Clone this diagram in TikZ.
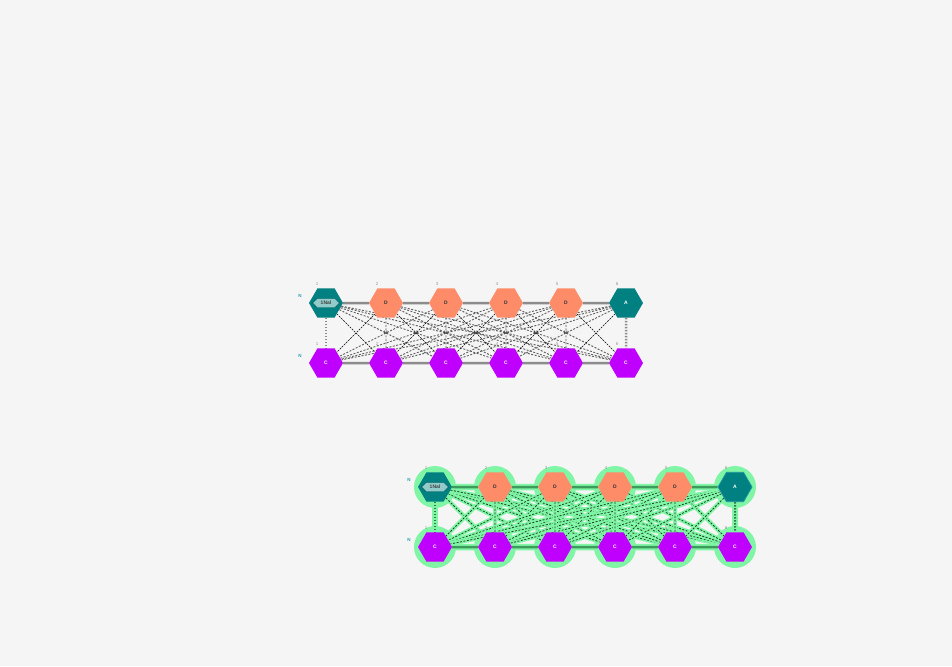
\documentclass[tikz,border=0pt]{standalone}
\usepackage{tikz}
\usepackage{fontspec}
\setsansfont{Liberation Sans}
\usetikzlibrary{calc}
\usetikzlibrary{shapes.geometric}
\usetikzlibrary{shapes.symbols}

\definecolor{bgc}{HTML}{F5F5F5}
\definecolor{tealc}{HTML}{008080}
\definecolor{salmonc}{HTML}{FF8C69}
\definecolor{purplec}{HTML}{BF00FF}
\definecolor{nalc}{HTML}{93CBCB}
\definecolor{haloc}{HTML}{80F5A5}
\definecolor{chainc}{HTML}{3C9A5A}
\definecolor{ncol}{HTML}{2A9DB0}

\pgfdeclarelayer{back}
\pgfdeclarelayer{mid}
\pgfsetlayers{back,mid,main}

\begin{document}
\begin{tikzpicture}[x=1pt, y=-1pt,
      hex/.style={regular polygon, regular polygon sides=6, minimum size=34pt,
                  inner sep=0pt, font=\sffamily\bfseries\fontsize{5}{6}\selectfont},
      nalhex/.style={hex, fill=tealc},
      dhex/.style={hex, fill=salmonc, text=black!80},
      ahex/.style={hex, fill=tealc, text=white},
      chex/.style={hex, fill=purplec, text=white},
      nalbox/.style={signal, signal to=east and west, draw=tealc!70!black,
                     fill=nalc, minimum width=27pt, minimum height=9pt, inner sep=0pt,
                     text=black!75, font=\sffamily\bfseries\fontsize{5}{6}\selectfont},
      num/.style={text=black!40, font=\sffamily\fontsize{4.5}{5}\selectfont, inner sep=0pt},
      nterm/.style={text=ncol, font=\sffamily\bfseries\fontsize{4.5}{5}\selectfont, inner sep=0pt},
      hlab/.style={text=black!75, font=\sffamily\bfseries\fontsize{5}{5}\selectfont, inner sep=0.3pt},
      chain/.style={draw=black!45, line width=2.5pt},
      pairv/.style={draw=black!45, line width=2.5pt, dash pattern=on 1.5pt off 1.5pt},
      hb/.style={draw=black!62, line width=0.9pt, dash pattern=on 2pt off 1.5pt},
      xthin/.style={draw=black, line width=0.4pt, dash pattern=on 2pt off 1pt},
      gchain/.style={preaction={draw=haloc, line width=6.5pt, solid}, draw=chainc, line width=2.5pt},
      gpairv/.style={preaction={draw=haloc, line width=6pt, solid}, draw=chainc!80!black,
                     line width=2pt, dash pattern=on 1.5pt off 1.5pt},
      ghb/.style={preaction={draw=haloc, line width=4pt, solid}, draw=chainc!45!black,
                  line width=0.8pt, dash pattern=on 2pt off 1.5pt},
    ]
    \useasboundingbox (0,0) rectangle (952,666);
    \begin{pgfonlayer}{back}
      \fill[bgc] (0,0) rectangle (952,666);
    \end{pgfonlayer}

    % upper ladder: residues
    \node[nalhex] (at1) at (326,303) {};
    \node[nalbox] (at1l) at (at1) {1Nal};
    \foreach \i in {2,...,5}
      \node[dhex] (at\i) at ({326+60*(\i-1)},303) {D};
    \node[ahex] (at6) at (626,303) {A};
    \foreach \i in {1,...,6}
      \node[chex] (ab\i) at ({326+60*(\i-1)},363) {C};
    \foreach \i in {1,...,6} {
      \node[num] (atn\i) at ($(at\i)+(-9,-19)$) {\i};
      \node[num] (abn\i) at ($(ab\i)+(-9,-19)$) {\i};
    }
    \node[nterm] (atN) at ($(at1)+(-26,-7)$) {N};
    \node[nterm] (abN) at ($(ab1)+(-26,-7)$) {N};

    % upper ladder: bonds
    \begin{pgfonlayer}{mid}
      \foreach \i [evaluate=\i as \j using int(\i+1)] in {1,...,5} {
        \draw[chain] (at\i) -- (at\j);
        \draw[chain] (ab\i) -- (ab\j);
      }
      \draw[pairv] (at1) -- (ab1);
      \draw[pairv] (at6) -- (ab6);
      \foreach \i in {1,...,6} {
        \foreach \j in {1,...,6} {
          \pgfmathtruncatemacro\d{abs(\i-\j)}
          \ifnum\d=1
            \draw[xthin] (at\i) -- (ab\j);
          \else
            \ifnum\d>1
              \draw[hb] (at\i) -- (ab\j);
            \fi
          \fi
        }
      }
      \foreach \i in {2,...,5}
        \draw[hb] (at\i) -- (ab\i);
      % H labels on the crossings
      \foreach \s in {4,...,10}
        \node[hlab] (hl\s) at ({326+30*(\s-2)},333) {H};
    \end{pgfonlayer}

    % lower ladder: residues
    \node[nalhex] (bt1) at (435,487) {};
    \node[nalbox] (bt1l) at (bt1) {1Nal};
    \foreach \i in {2,...,5}
      \node[dhex] (bt\i) at ({435+60*(\i-1)},487) {D};
    \node[ahex, draw=ncol!70!tealc, line width=0.8pt] (bt6) at (735,487) {A};
    \foreach \i in {1,...,6}
      \node[chex] (bb\i) at ({435+60*(\i-1)},547) {C};
    \foreach \i in {1,...,6} {
      \node[num] (btn\i) at ($(bt\i)+(-9,-19)$) {\i};
      \node[num] (bbn\i) at ($(bb\i)+(-9,-19)$) {\i};
    }
    \node[nterm] (btN) at ($(bt1)+(-26,-7)$) {N};
    \node[nterm] (bbN) at ($(bb1)+(-26,-7)$) {N};

    % lower ladder: halos
    \begin{pgfonlayer}{back}
      \foreach \i in {1,...,6} {
        \fill[haloc] (bt\i) circle (21pt);
        \fill[haloc] (bb\i) circle (21pt);
      }
    \end{pgfonlayer}

    % lower ladder: bonds
    \begin{pgfonlayer}{mid}
      \foreach \i [evaluate=\i as \j using int(\i+1)] in {1,...,5} {
        \draw[gchain] (bt\i) -- (bt\j);
        \draw[gchain] (bb\i) -- (bb\j);
      }
      \foreach \i in {1,...,6} {
        \foreach \j in {1,...,6} {
          \ifnum\i=\j\else
            \draw[ghb] (bt\i) -- (bb\j);
          \fi
        }
      }
      \foreach \i in {2,...,5}
        \draw[ghb] (bt\i) -- (bb\i);
      \draw[gpairv] (bt1) -- (bb1);
      \draw[gpairv] (bt6) -- (bb6);
    \end{pgfonlayer}
\end{tikzpicture}
\end{document}
